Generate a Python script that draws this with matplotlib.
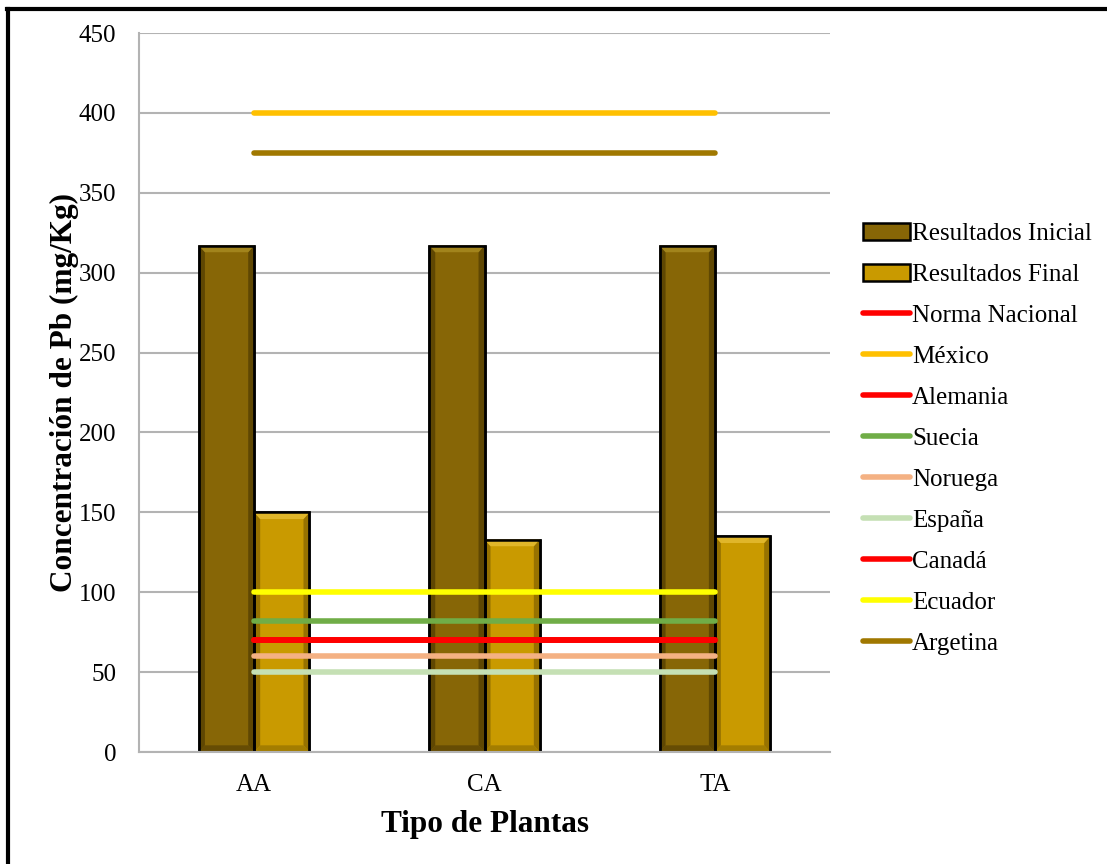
import matplotlib
matplotlib.use("Agg")
import matplotlib.pyplot as plt
from matplotlib.lines import Line2D
from matplotlib.patches import Patch, Polygon
import numpy as np

plt.rcParams['font.family'] = ['Liberation Serif', 'DejaVu Serif']

categories = ["AA", "CA", "TA"]
inicial = [317, 317, 317]
final = [150, 133, 135]

norm_names = ["Norma Nacional", "México", "Alemania", "Suecia", "Noruega",
              "España", "Canadá", "Ecuador", "Argetina"]
norm_values = [70, 400, 70, 82, 60, 50, 70, 100, 375]
norm_colors = ["#FF0000", "#FFC000", "#FF0000", "#70AD47", "#F4B183",
               "#C5E0B4", "#FF0000", "#FFFF00", "#A07800"]

fig = plt.figure(figsize=(11.07, 8.64), dpi=100)
ax = fig.add_axes([0.1256, 0.1296, 0.6242, 0.8322])

x = np.arange(len(categories))
w = 0.24
dark = "#876606"
light = "#C99A00"
b1 = ax.bar(x - w/2, inicial, w, color=dark, edgecolor="black", linewidth=1.8, zorder=2)
b2 = ax.bar(x + w/2, final, w, color=light, edgecolor="black", linewidth=1.8, zorder=2)


def bevel(bars, top_c, side_c, bot_c, dx=0.026, dy=4.2):
    for p in bars.patches:
        x0, y0 = p.get_x(), p.get_y()
        x1, y1 = x0 + p.get_width(), y0 + p.get_height()
        top = [(x0, y1), (x1, y1), (x1 - dx, y1 - dy), (x0 + dx, y1 - dy)]
        bot = [(x0, y0), (x1, y0), (x1 - dx, y0 + dy), (x0 + dx, y0 + dy)]
        left = [(x0, y0), (x0, y1), (x0 + dx, y1 - dy), (x0 + dx, y0 + dy)]
        right = [(x1, y0), (x1, y1), (x1 - dx, y1 - dy), (x1 - dx, y0 + dy)]
        for poly, c, a in [(left, side_c, 0.55), (right, side_c, 0.55),
                           (top, top_c, 1.0), (bot, bot_c, 0.8)]:
            ax.add_patch(Polygon(poly, closed=True, facecolor=c, edgecolor='none',
                                 alpha=a, zorder=2.1))
        ax.add_patch(Polygon([(x0, y0), (x1, y0), (x1, y1), (x0, y1)], closed=True,
                             facecolor='none', edgecolor='black', linewidth=1.8, zorder=2.2))


bevel(b1, "#A2841C", "#3E2E00", "#5E4604")
bevel(b2, "#E0B62A", "#6E5200", "#9A7600")

for name, val, col in zip(norm_names, norm_values, norm_colors):
    ax.plot(x, [val] * len(x), color=col, linewidth=4, solid_capstyle='round', zorder=3)

ax.set_xlim(-0.5, 2.5)
ax.set_ylim(0, 450)
ax.set_yticks(np.arange(0, 451, 50))
ax.set_xticks(x)
ax.set_xticklabels(categories)
ax.tick_params(axis='y', length=0, labelsize=18, pad=16.5)
ax.tick_params(axis='x', length=0, labelsize=18, pad=16)
ax.grid(axis='y', color='#B3B3B3', linewidth=1.5, zorder=0)
for s in ['top', 'right']:
    ax.spines[s].set_visible(False)
ax.spines['left'].set_color('#B3B3B3')
ax.spines['bottom'].set_color('#B3B3B3')
ax.spines['left'].set_linewidth(1.5)
ax.spines['bottom'].set_linewidth(1.5)

ax.set_ylabel("Concentración de Pb (mg/Kg)", fontsize=22.5, fontweight='bold', labelpad=0)
ax.set_xlabel("Tipo de Plantas", fontsize=22.5, fontweight='bold', labelpad=10)

handles = [Patch(facecolor=dark, edgecolor='black', linewidth=1.8, label="Resultados Inicial"),
           Patch(facecolor=light, edgecolor='black', linewidth=1.8, label="Resultados Final")]
for name, col in zip(norm_names, norm_colors):
    handles.append(Line2D([0], [0], color=col, linewidth=4, solid_capstyle='round', label=name))
fig.legend(handles=handles, loc='upper left', bbox_to_anchor=(0.771, 0.754),
           frameon=False, fontsize=18, handlelength=1.85, handletextpad=0.1,
           labelspacing=0.74, borderaxespad=0)

# figure border (left and top visible)
fig.add_artist(Line2D([0.007, 0.007], [0.0, 0.99], transform=fig.transFigure, color='black', linewidth=3))
fig.add_artist(Line2D([0.006, 1.0], [0.99, 0.99], transform=fig.transFigure, color='black', linewidth=3))

fig.savefig("out.png", dpi=100)
